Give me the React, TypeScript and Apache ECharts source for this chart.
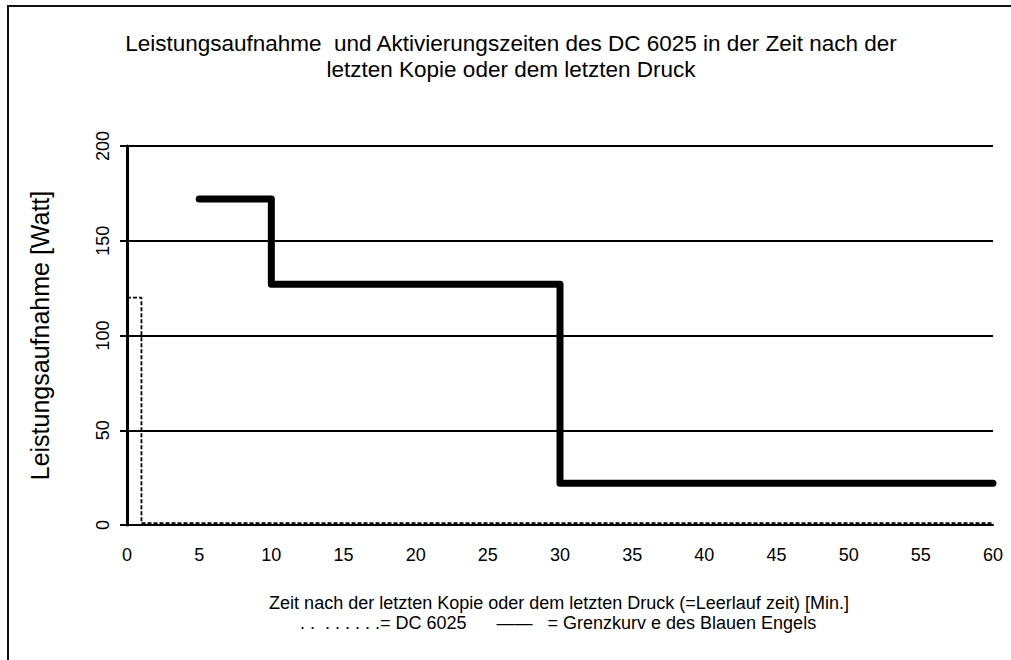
import React, { useEffect, useRef } from "react";
import * as echarts from "echarts";

const xTicks = [0, 5, 10, 15, 20, 25, 30, 35, 40, 45, 50, 55, 60];
const yTicks = [0, 50, 100, 150, 200];

// DC 6025 (dotted) step points: [minutes, watts]
const dcMinutes = [0, 1, 60];
const dcWatts = [120, 1, 1];

// Grenzkurve des Blauen Engels step points
const limitMinutes = [5, 10, 30, 60];
const limitWatts = [172, 127, 22, 22];

const titleLine1 = "Leistungsaufnahme  und Aktivierungszeiten des DC 6025 in der Zeit nach der";
const titleLine2 = "letzten Kopie oder dem letzten Druck";
const xAxisName = "Zeit nach der letzten Kopie oder dem letzten Druck (=Leerlauf zeit) [Min.]";
const legendLine = ". .  . . . . . .= DC 6025      \u2014\u2014   = Grenzkurv e des Blauen Engels";
const yAxisName = "Leistungsaufnahme [Watt]";

const FONT = "'Liberation Sans', Arial, sans-serif";

export default function App() {
  const ref = useRef<HTMLDivElement>(null);
  useEffect(() => {
    document.body.style.margin = "0";
    const chart = echarts.init(ref.current!, null, { renderer: "svg" });
    const dcData = dcMinutes.map((m, i) => [m, dcWatts[i]]);
    const limitData = limitMinutes.map((m, i) => [m, limitWatts[i]]);
    chart.setOption({
      animation: false,
      backgroundColor: "#ffffff",
      textStyle: { fontFamily: FONT },
      grid: { left: 127, right: 18, top: 146, bottom: 135, containLabel: false },
      xAxis: {
        type: "value",
        min: 0,
        max: 60,
        interval: 5,
        axisLine: { show: true, onZero: false, lineStyle: { color: "#000", width: 2 } },
        axisTick: { show: false },
        splitLine: { show: false },
        axisLabel: {
          color: "#000",
          fontSize: 18,
          fontFamily: FONT,
          margin: 21,
          formatter: (v: number) => (xTicks.includes(v) ? String(v) : ""),
        },
      },
      yAxis: {
        type: "value",
        min: 0,
        max: 200,
        interval: 50,
        name: yAxisName,
        nameLocation: "middle",
        nameRotate: 90,
        nameGap: 75,
        nameTextStyle: { color: "#000", fontSize: 25, fontFamily: FONT },
        axisLine: { show: true, lineStyle: { color: "#000", width: 3 } },
        axisTick: { show: true, inside: false, length: 7, lineStyle: { color: "#000", width: 2 } },
        splitLine: { show: true, lineStyle: { color: "#000", width: 2 } },
        axisLabel: {
          color: "#000",
          fontSize: 18,
          fontFamily: FONT,
          rotate: 90,
          margin: 15,
          formatter: (v: number) => (yTicks.includes(v) ? String(v) : ""),
        },
      },
      graphic: [
        {
          type: "rect",
          shape: { x: 8, y: 6, width: 1200, height: 900 },
          style: { fill: "none", stroke: "#111", lineWidth: 2 },
          z: 100,
        },
        {
          type: "text",
          x: 511,
          y: 43,
          style: {
            text: titleLine1,
            fill: "#000",
            fontSize: 22.5,
            fontFamily: FONT,
            align: "center",
            verticalAlign: "middle",
          },
        },
        {
          type: "text",
          x: 511,
          y: 69,
          style: {
            text: titleLine2,
            fill: "#000",
            fontSize: 22.5,
            fontFamily: FONT,
            align: "center",
            verticalAlign: "middle",
          },
        },
        {
          type: "text",
          x: 559,
          y: 603,
          style: {
            text: xAxisName,
            fill: "#000",
            fontSize: 18,
            fontFamily: FONT,
            align: "center",
            verticalAlign: "middle",
          },
        },
        {
          type: "text",
          x: 558,
          y: 623,
          style: {
            text: legendLine,
            fill: "#000",
            fontSize: 18,
            fontFamily: FONT,
            align: "center",
            verticalAlign: "middle",
          },
        },
      ],
      series: [
        {
          name: "DC 6025",
          type: "line",
          step: "end",
          data: dcData,
          showSymbol: false,
          symbol: "none",
          lineStyle: { color: "#000", width: 1.8, type: [4, 2] },
          z: 3,
        },
        {
          name: "Grenzkurve des Blauen Engels",
          type: "line",
          step: "end",
          data: limitData,
          showSymbol: false,
          symbol: "none",
          lineStyle: { color: "#000", width: 7, cap: "round", join: "round" },
          z: 4,
        },
      ],
    });
    return () => chart.dispose();
  }, []);
  return (
    <div
      ref={ref}
      style={{ position: "absolute", left: 0, top: 0, width: 1011, height: 660 }}
    />
  );
}
